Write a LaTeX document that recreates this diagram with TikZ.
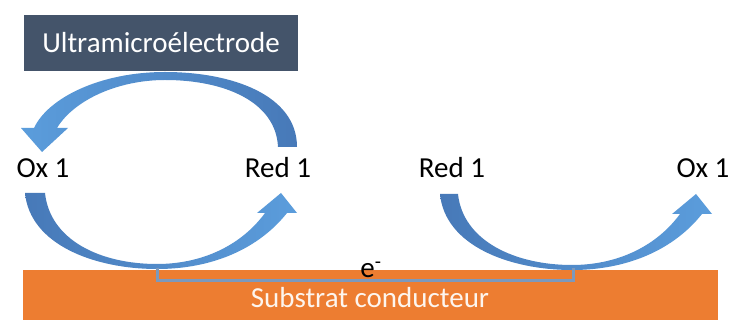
\documentclass[tikz,border=0pt]{standalone}
\usepackage{fontspec}
\setmainfont{Carlito}
\definecolor{boxblue}{HTML}{44546A}
\definecolor{orangebar}{HTML}{ED7D31}
\definecolor{arrdark}{HTML}{4779B8}
\definecolor{arrlight}{HTML}{5B9DDC}
\definecolor{bracket}{HTML}{7C99BC}
\begin{document}
\begin{tikzpicture}[x=1pt,y=-1pt,
  lbl/.style={font=\fontsize{29}{34}\selectfont, inner sep=0pt, text=black},
  arr/.style={draw=none}]
\useasboundingbox (0,0) rectangle (729,320);
% electrode box
\node[fill=boxblue, minimum width=274pt, minimum height=56pt, inner sep=0pt,
      text=white, font=\fontsize{29}{34}\selectfont] (ume) at (161,43) {Ultramicroélectrode};
% substrate
\node[fill=orangebar, minimum width=695pt, minimum height=50pt, inner sep=0pt, anchor=north west] (sub) at (23,270) {};
\node[text=white!92!orangebar, font=\fontsize{29}{34}\selectfont, inner sep=0pt] (subt) at (370,298) {Substrat conducteur};
% labels
\node[lbl] (ox1) at (43,168) {Ox 1};
\node[lbl] (red1) at (278,168) {Red 1};
\node[lbl] (red2) at (452,168) {Red 1};
\node[lbl] (ox2) at (703,168) {Ox 1};
% top arrow (tail right, head down-left)
\path[arr, left color=arrlight, right color=arrdark]
  (278,147) -- (297,147)
  .. controls (297,95) and (232,72) .. (165,72)
  .. controls (100,72) and (48,98) .. (34,128)
  -- (21,128) -- (42,152) -- (68,128) -- (57,128)
  .. controls (74,100) and (118,80) .. (165,80)
  .. controls (225,80) and (276,102) .. (278,147) -- cycle;
% lower left arrow
\path[arr, left color=arrdark, right color=arrlight]
  (25,193) -- (45,193)
  .. controls (50,240) and (100,264) .. (157,264)
  .. controls (200,264) and (240,247) .. (265,213)
  -- (257,213) -- (281,193) -- (297,213) -- (287,213)
  .. controls (260,247) and (215,269) .. (157,269)
  .. controls (95,269) and (30,245) .. (25,193) -- cycle;
% lower right arrow
\begin{scope}[xshift=415pt, yshift=-1pt]
\path[arr, left color=arrdark, right color=arrlight]
  (25,193) -- (43,193)
  .. controls (48,240) and (100,264) .. (157,264)
  .. controls (200,264) and (240,247) .. (265,213)
  -- (257,213) -- (281,193) -- (297,213) -- (287,213)
  .. controls (260,247) and (215,269) .. (157,269)
  .. controls (95,269) and (30,245) .. (25,193) -- cycle;
\end{scope}
% bracket
\coordinate (bl) at (157,268);
\coordinate (br) at (573,268);
\draw[bracket, line width=3pt] (bl) -- ++(0,13) -| (br);
% electron
\node[font=\fontsize{29}{34}\selectfont, inner sep=0pt, anchor=base] (e) at (371,278) {e\textsuperscript{-}};
\end{tikzpicture}
\end{document}
